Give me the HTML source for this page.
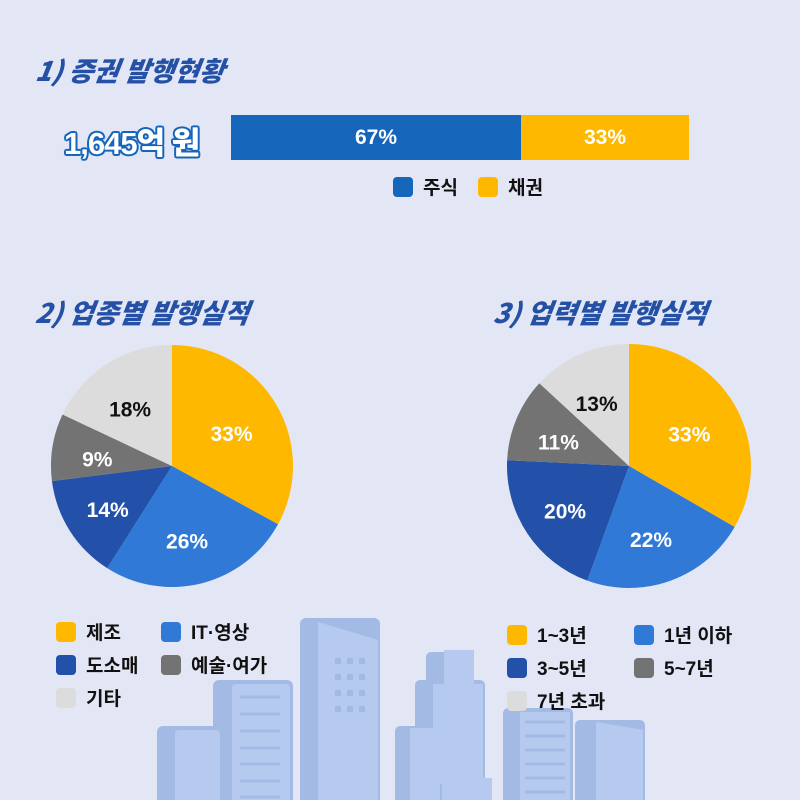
<!DOCTYPE html><html><head><meta charset="utf-8"><style>
body{margin:0;width:800px;height:800px;background:#E3E6F4;overflow:hidden;position:relative;font-family:"Liberation Sans","Noto Sans CJK KR",sans-serif}
.t{position:absolute;font-weight:900;font-style:italic;color:#2450A6;font-size:27px;font-family:"Noto Sans CJK KR",sans-serif;line-height:1;transform:skewX(-8deg)}
.a{position:absolute}
.lg{position:absolute;font-size:19px;font-weight:700;color:#111;display:flex;align-items:center}
.lg i{display:inline-block;width:20px;height:20px;border-radius:4px;margin-right:10px}
</style></head><body>
<svg class="a" style="left:0;top:0" width="800" height="800">
<g fill="#A3BBE4">
<rect x="157" y="726" width="70" height="80" rx="6"/><rect x="213" y="680" width="80" height="130" rx="6"/>
<rect x="300" y="618" width="80" height="190" rx="6"/><rect x="426" y="652" width="48" height="60" rx="5"/>
<rect x="415" y="680" width="70" height="130" rx="5"/><rect x="395" y="726" width="50" height="80" rx="5"/>
<rect x="503" y="708" width="70" height="100" rx="5"/><rect x="575" y="720" width="70" height="90" rx="5"/></g>
<g fill="#B6CAEF">
<rect x="175" y="730" width="45" height="80" rx="4"/><rect x="232" y="684" width="58" height="130" rx="4"/>
<polygon points="318,622 378,640 378,810 318,810"/><rect x="444" y="650" width="30" height="36"/>
<rect x="433" y="684" width="50" height="100"/><rect x="410" y="728" width="30" height="80"/><rect x="442" y="778" width="50" height="30"/>
<rect x="520" y="712" width="50" height="100"/><polygon points="596,722 643,730 643,810 596,810"/></g>
<g stroke="#A3BBE4" stroke-width="3"><path d="M240 697h40M240 714h40M240 731h40M240 748h40M240 764h40M240 781h40M240 797h40M525 722h40M525 736h40M525 750h40M525 764h40M525 778h40M525 792h40"/></g>
<g fill="#A3BBE4"><rect x="335" y="658" width="6" height="6"/><rect x="347" y="658" width="6" height="6"/><rect x="359" y="658" width="6" height="6"/>
<rect x="335" y="674" width="6" height="6"/><rect x="347" y="674" width="6" height="6"/><rect x="359" y="674" width="6" height="6"/>
<rect x="335" y="690" width="6" height="6"/><rect x="347" y="690" width="6" height="6"/><rect x="359" y="690" width="6" height="6"/>
<rect x="335" y="706" width="6" height="6"/><rect x="347" y="706" width="6" height="6"/><rect x="359" y="706" width="6" height="6"/></g>
<g id="g1"></g><g id="g2"></g>
</svg>
<div class="t" style="left:36px;top:56px">1) 증권 발행현황</div>
<div class="a" style="left:64px;top:118px;font-size:31px;font-weight:900;color:#fff;letter-spacing:-1px;text-shadow:2px 0 #1565BA,-2px 0 #1565BA,0 2px #1565BA,0 -2px #1565BA,1.5px 1.5px #1565BA,-1.5px -1.5px #1565BA,1.5px -1.5px #1565BA,-1.5px 1.5px #1565BA">1,645억 원</div>
<div class="a" style="left:231px;top:115px;width:290px;height:45px;background:#1565BA;color:#fff;font-weight:700;font-size:21px;display:flex;align-items:center;justify-content:center">67%</div>
<div class="a" style="left:521px;top:115px;width:168px;height:45px;background:#FFB800;color:#fff;font-weight:700;font-size:21px;display:flex;align-items:center;justify-content:center">33%</div>
<div class="lg" style="left:393px;top:173px"><i style="background:#1565BA"></i>주식</div>
<div class="lg" style="left:478px;top:173px"><i style="background:#FFB800"></i>채권</div>
<div class="t" style="left:36px;top:298px">2) 업종별 발행실적</div>
<div class="t" style="left:494px;top:298px">3) 업력별 발행실적</div>
<div class="lg" style="left:56px;top:618px"><i style="background:#FFB800"></i>제조</div>
<div class="lg" style="left:161px;top:618px"><i style="background:#3079D6"></i>IT·영상</div>
<div class="lg" style="left:56px;top:651px"><i style="background:#2350A8"></i>도소매</div>
<div class="lg" style="left:161px;top:651px"><i style="background:#737373"></i>예술·여가</div>
<div class="lg" style="left:56px;top:684px"><i style="background:#DCDCDC"></i>기타</div>
<div class="lg" style="left:507px;top:621px"><i style="background:#FFB800"></i>1~3년</div>
<div class="lg" style="left:634px;top:621px"><i style="background:#3079D6"></i>1년 이하</div>
<div class="lg" style="left:507px;top:654px"><i style="background:#2350A8"></i>3~5년</div>
<div class="lg" style="left:634px;top:654px"><i style="background:#737373"></i>5~7년</div>
<div class="lg" style="left:507px;top:687px"><i style="background:#DCDCDC"></i>7년 초과</div>
<script>
var C=["#FFB800","#3079D6","#2350A8","#737373","#DCDCDC"],TC=["#fff","#fff","#fff","#fff","#111"];
function pie(g,cx,cy,r,v){var s=v.reduce((a,b)=>a+b),a=0,h="";v.forEach((x,i)=>{var b=a+x/s*2*Math.PI;
var p=t=>[cx+r*Math.sin(t),cy-r*Math.cos(t)],P=p(a),Q=p(b);
h+=`<path d="M${cx} ${cy}L${P[0]} ${P[1]}A${r} ${r} 0 ${b-a>Math.PI?1:0} 1 ${Q[0]} ${Q[1]}Z" fill="${C[i]}"/>`;
var m=(a+b)/2,lr=r*0.6;h+=`<text x="${cx+lr*Math.sin(m)-3}" y="${cy-lr*Math.cos(m)+12}" text-anchor="middle" font-size="21" font-weight="700" fill="${TC[i]}" font-family="Liberation Sans,sans-serif">${x}%</text>`;a=b});
document.getElementById(g).innerHTML=h}
pie("g1",172,466,121,[33,26,14,9,18]);pie("g2",629,466,122,[33,22,20,11,13]);
</script>
</body></html>
